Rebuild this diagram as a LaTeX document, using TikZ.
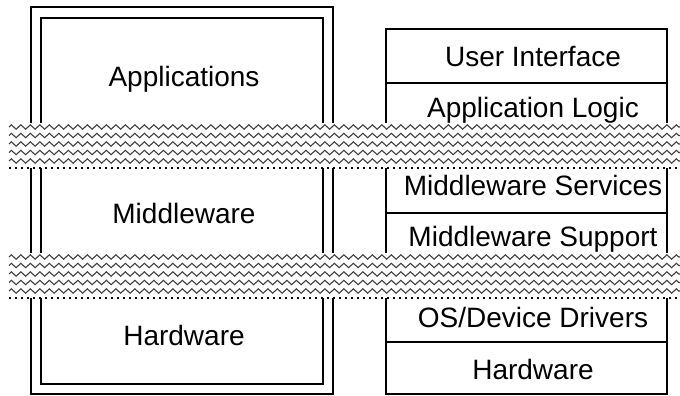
\documentclass[tikz,border=0pt]{standalone}
\usepackage{fontspec}
\setmainfont{Liberation Sans}
\usetikzlibrary{decorations.pathmorphing}
\begin{document}
\begin{tikzpicture}[x=1pt,y=-1pt,
  frame/.style={draw=black,line width=1.6pt},
  label/.style={font=\fontsize{28}{32}\selectfont,inner sep=0pt,anchor=center},
  wave/.style={draw=black!75,line width=1.1pt,decorate,
    decoration={zigzag,segment length=9.5pt,amplitude=2.2pt}},
  tornedge/.style={draw=black,line width=1.2pt,dash pattern=on 2pt off 4pt}]
\useasboundingbox (0,0) rectangle (680,396);

% layered view on the left: double frame
\draw[frame] (31,7) rectangle (333,394);
\draw[frame] (41,18) rectangle (323,384);
\node[label] (lapp) at (184,79) {Applications};
\node[label] (lmid) at (184,213) {Middleware};
\node[label] (lhw)  at (184,335) {Hardware};

% detailed stack on the right
\draw[frame] (386,29) rectangle (667,394);
\draw[frame] (386,83) -- (667,83);
\draw[frame] (386,212.7) -- (667,212.7);
\draw[frame] (386,342) -- (667,342);
\node[label] (rui)  at (533,57)  {User Interface};
\node[label] (ral)  at (533,110) {Application Logic};
\node[label] (rms)  at (533,185) {Middleware Services};
\node[label] (rsup) at (533,239) {Middleware Support};
\node[label] (ros)  at (533,317) {OS/Device Drivers};
\node[label] (rhw)  at (533,369) {Hardware};

% two break bands across both views
\foreach \top in {124,254}{
  \fill[white] (9,\top-1) rectangle (680,\top+44);
  \foreach \k in {0,...,4}{
    \draw[wave] (9,\top+3+8.5*\k) -- (680,\top+3+8.5*\k);
  }
  \draw[tornedge] (9,\top+44) -- (680,\top+44);
}
\end{tikzpicture}
\end{document}
